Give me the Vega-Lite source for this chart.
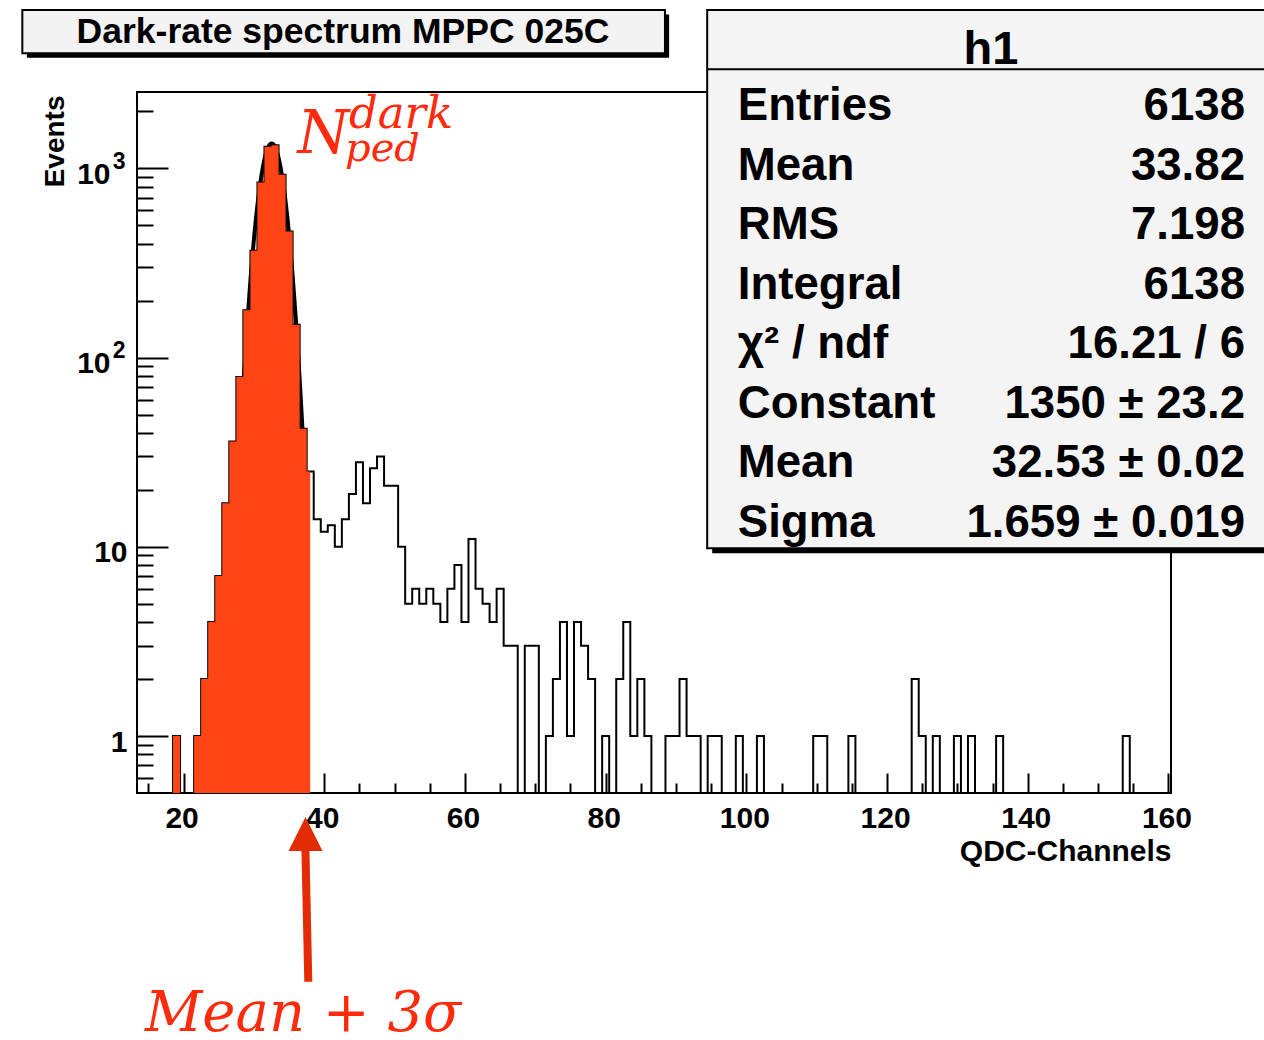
{
  "$schema": "https://vega.github.io/schema/vega-lite/v6.json",
  "width": 1034,
  "height": 701,
  "autosize": {"type": "none"},
  "padding": {"left": 137, "top": 92, "right": 93, "bottom": 247},
  "background": "white",
  "config": {
    "view": {"stroke": "black", "strokeWidth": 2},
    "axis": {"labelFont": "Liberation Sans", "titleFont": "Liberation Sans", "labelColor": "black", "titleColor": "black", "grid": false}
  },
  "datasets": {
    "hist": [
      {"ch": 13, "n": 0}, {"ch": 14, "n": 0}, {"ch": 15, "n": 0}, {"ch": 16, "n": 0}, {"ch": 17, "n": 0}, {"ch": 18, "n": 0},
      {"ch": 19, "n": 1}, {"ch": 20, "n": 0}, {"ch": 21, "n": 0}, {"ch": 22, "n": 1}, {"ch": 23, "n": 2}, {"ch": 24, "n": 4},
      {"ch": 25, "n": 7}, {"ch": 26, "n": 17}, {"ch": 27, "n": 36}, {"ch": 28, "n": 79}, {"ch": 29, "n": 178}, {"ch": 30, "n": 367},
      {"ch": 31, "n": 841}, {"ch": 32, "n": 1300}, {"ch": 33, "n": 1325}, {"ch": 34, "n": 924}, {"ch": 35, "n": 463}, {"ch": 36, "n": 149},
      {"ch": 37, "n": 42}, {"ch": 38, "n": 25}, {"ch": 39, "n": 14}, {"ch": 40, "n": 12}, {"ch": 41, "n": 13}, {"ch": 42, "n": 10},
      {"ch": 43, "n": 14}, {"ch": 44, "n": 19}, {"ch": 45, "n": 28}, {"ch": 46, "n": 17}, {"ch": 47, "n": 26}, {"ch": 48, "n": 30},
      {"ch": 49, "n": 21}, {"ch": 50, "n": 21}, {"ch": 51, "n": 10}, {"ch": 52, "n": 5}, {"ch": 53, "n": 6}, {"ch": 54, "n": 5},
      {"ch": 55, "n": 6}, {"ch": 56, "n": 5}, {"ch": 57, "n": 4}, {"ch": 58, "n": 6}, {"ch": 59, "n": 8}, {"ch": 60, "n": 4},
      {"ch": 61, "n": 11}, {"ch": 62, "n": 6}, {"ch": 63, "n": 5}, {"ch": 64, "n": 4}, {"ch": 65, "n": 6}, {"ch": 66, "n": 3},
      {"ch": 67, "n": 3}, {"ch": 68, "n": 0}, {"ch": 69, "n": 3}, {"ch": 70, "n": 3}, {"ch": 71, "n": 0}, {"ch": 72, "n": 1},
      {"ch": 73, "n": 2}, {"ch": 74, "n": 4}, {"ch": 75, "n": 1}, {"ch": 76, "n": 4}, {"ch": 77, "n": 3}, {"ch": 78, "n": 2},
      {"ch": 79, "n": 0}, {"ch": 80, "n": 1}, {"ch": 81, "n": 0}, {"ch": 82, "n": 2}, {"ch": 83, "n": 4}, {"ch": 84, "n": 1},
      {"ch": 85, "n": 2}, {"ch": 86, "n": 1}, {"ch": 87, "n": 0}, {"ch": 88, "n": 0}, {"ch": 89, "n": 1}, {"ch": 90, "n": 1},
      {"ch": 91, "n": 2}, {"ch": 92, "n": 1}, {"ch": 93, "n": 1}, {"ch": 94, "n": 0}, {"ch": 95, "n": 1}, {"ch": 96, "n": 1},
      {"ch": 97, "n": 0}, {"ch": 98, "n": 0}, {"ch": 99, "n": 1}, {"ch": 100, "n": 0}, {"ch": 101, "n": 0}, {"ch": 102, "n": 1},
      {"ch": 103, "n": 0}, {"ch": 104, "n": 0}, {"ch": 105, "n": 0}, {"ch": 106, "n": 0}, {"ch": 107, "n": 0}, {"ch": 108, "n": 0},
      {"ch": 109, "n": 0}, {"ch": 110, "n": 1}, {"ch": 111, "n": 1}, {"ch": 112, "n": 0}, {"ch": 113, "n": 0}, {"ch": 114, "n": 0},
      {"ch": 115, "n": 1}, {"ch": 116, "n": 0}, {"ch": 117, "n": 0}, {"ch": 118, "n": 0}, {"ch": 119, "n": 0}, {"ch": 120, "n": 0},
      {"ch": 121, "n": 0}, {"ch": 122, "n": 0}, {"ch": 123, "n": 0}, {"ch": 124, "n": 2}, {"ch": 125, "n": 1}, {"ch": 126, "n": 0},
      {"ch": 127, "n": 1}, {"ch": 128, "n": 0}, {"ch": 129, "n": 0}, {"ch": 130, "n": 1}, {"ch": 131, "n": 0}, {"ch": 132, "n": 1},
      {"ch": 133, "n": 0}, {"ch": 134, "n": 0}, {"ch": 135, "n": 0}, {"ch": 136, "n": 1}, {"ch": 137, "n": 0}, {"ch": 138, "n": 0},
      {"ch": 139, "n": 0}, {"ch": 140, "n": 0}, {"ch": 141, "n": 0}, {"ch": 142, "n": 0}, {"ch": 143, "n": 0}, {"ch": 144, "n": 0},
      {"ch": 145, "n": 0}, {"ch": 146, "n": 0}, {"ch": 147, "n": 0}, {"ch": 148, "n": 0}, {"ch": 149, "n": 0}, {"ch": 150, "n": 0},
      {"ch": 151, "n": 0}, {"ch": 152, "n": 0}, {"ch": 153, "n": 0}, {"ch": 154, "n": 1}, {"ch": 155, "n": 0}, {"ch": 156, "n": 0},
      {"ch": 157, "n": 0}, {"ch": 158, "n": 0}, {"ch": 159, "n": 0}, {"ch": 160, "n": 0}
    ],
    "fit": [
      {"x": 27.55, "n": 14.9}, {"x": 28, "n": 32.4}, {"x": 28.5, "n": 70.6}, {"x": 29, "n": 140.4}, {"x": 29.5, "n": 254.6},
      {"x": 30, "n": 422.0}, {"x": 30.5, "n": 638.6}, {"x": 31, "n": 882.4}, {"x": 31.5, "n": 1113.3}, {"x": 32, "n": 1282.8},
      {"x": 32.53, "n": 1350}, {"x": 33, "n": 1296.9}, {"x": 33.5, "n": 1137.9}, {"x": 34, "n": 911.7}, {"x": 34.5, "n": 667.0},
      {"x": 35, "n": 445.6}, {"x": 35.5, "n": 271.9}, {"x": 36, "n": 151.5}, {"x": 36.5, "n": 77.1}, {"x": 37, "n": 35.8},
      {"x": 37.51, "n": 14.9}
    ],
    "stats": [
      {"row": 1, "stat": "Entries", "value": "6138"},
      {"row": 2, "stat": "Mean", "value": "33.82"},
      {"row": 3, "stat": "RMS", "value": "7.198"},
      {"row": 4, "stat": "Integral", "value": "6138"},
      {"row": 5, "stat": "χ² / ndf", "value": "16.21 / 6"},
      {"row": 6, "stat": "Constant", "value": "1350 ± 23.2"},
      {"row": 7, "stat": "Mean", "value": "32.53 ± 0.02"},
      {"row": 8, "stat": "Sigma", "value": "1.659 ± 0.019"}
    ]
  },
  "layer": [
    {
      "layer": [
        {
          "data": {"name": "hist"},
          "mark": {"type": "line", "interpolate": "step", "color": "black", "strokeWidth": 2, "clip": true},
          "encoding": {
            "x": {"field": "ch", "type": "quantitative", "scale": {"domain": [13.38, 160.36], "nice": false, "zero": false},
              "axis": {"orient": "bottom", "values": [20, 40, 60, 80, 100, 120, 140, 160], "ticks": false, "domain": false,
                "labelFontSize": 30, "labelFontWeight": "bold", "labelPadding": 10, "labelBaseline": "top", "labelOffset": -2,
                "labelFlush": false, "labelOverlap": false,
                "title": "QDC-Channels", "titleFontSize": 30, "titleFontWeight": "bold", "titleAlign": "right", "titleAnchor": "end",
                "titleX": 1034, "titleY": 67, "titleBaseline": "alphabetic"}},
            "y": {"field": "n", "type": "quantitative", "scale": {"type": "log", "domain": [0.5, 2530], "clamp": true, "nice": false},
              "axis": {"orient": "left", "values": [1, 10], "ticks": false, "domain": false,
                "labelExpr": "datum.value >= 9 ? '10' : '1'",
                "labelFontSize": 30, "labelFontWeight": "bold", "labelAlign": "right", "labelBaseline": "alphabetic", "labelOffset": 15,
                "labelPadding": 10, "labelFlush": false, "labelOverlap": false,
                "title": "Events", "titleFontSize": 28, "titleFontWeight": "bold", "titleAngle": 270, "titleAlign": "right",
                "titleBaseline": "alphabetic", "titleX": -74, "titleY": 3}}
          }
        },
        {
          "data": {"name": "fit"},
          "mark": {"type": "line", "interpolate": "monotone", "color": "black", "strokeWidth": 4},
          "encoding": {
            "x": {"field": "x", "type": "quantitative", "scale": {"domain": [13.38, 160.36], "nice": false, "zero": false},
              "axis": {"orient": "bottom", "values": [20, 40, 60, 80, 100, 120, 140, 160], "labels": false, "domain": false,
                "ticks": true, "tickSize": 20, "tickWidth": 2, "tickColor": "black", "offset": -20, "title": null}},
            "y": {"field": "n", "type": "quantitative", "scale": {"type": "log", "domain": [0.5, 2530], "clamp": true, "nice": false},
              "axis": {"orient": "left", "values": [1, 10, 100, 1000], "labels": false, "domain": false,
                "ticks": true, "tickSize": 31, "tickWidth": 2, "tickColor": "black", "offset": -31, "title": null}}
          }
        },
        {
          "data": {"name": "hist"},
          "transform": [{"filter": "datum.ch >= 18 && datum.ch <= 38"}],
          "mark": {"type": "area", "interpolate": "step", "color": "#ff4516", "opacity": 1},
          "encoding": {
            "x": {"field": "ch", "type": "quantitative", "scale": {"domain": [13.38, 160.36], "nice": false, "zero": false},
              "axis": {"orient": "bottom", "values": [15, 25, 30, 35, 45, 50, 55, 65, 70, 75, 85, 90, 95, 105, 110, 115, 125, 130, 135, 145, 150, 155],
                "labels": false, "domain": false, "ticks": true, "tickSize": 10, "tickWidth": 2, "tickColor": "black", "offset": -10, "title": null}},
            "y": {"field": "n", "type": "quantitative", "scale": {"type": "log", "domain": [0.5, 2530], "clamp": true, "nice": false},
              "axis": {"orient": "left", "values": [0.6, 0.7, 0.8, 0.9, 2, 3, 4, 5, 6, 7, 8, 9, 20, 30, 40, 50, 60, 70, 80, 90, 200, 300, 400, 500, 600, 700, 800, 900, 2000],
                "labels": false, "domain": false, "ticks": true, "tickSize": 16, "tickWidth": 2, "tickColor": "black", "offset": -16, "title": null}}
          }
        }
      ],
      "resolve": {"axis": {"x": "independent", "y": "independent"}}
    },
    {
      "layer": [
        {
          "data": {"values": [{}]},
          "mark": {"type": "rect", "color": "black"},
          "encoding": {
            "x": {"datum": -2.28, "type": "quantitative", "scale": {"domain": [13.38, 160.36], "nice": false, "zero": false}, "axis": null},
            "x2": {"datum": 89.02},
            "y": {"datum": 6493, "type": "quantitative", "scale": {"type": "log", "domain": [0.5, 2530], "nice": false},
              "axis": {"orient": "left", "values": [100, 1000], "ticks": false, "domain": false, "labelExpr": "'10'",
                "labelFontSize": 30, "labelFontWeight": "bold", "labelAlign": "right", "labelBaseline": "alphabetic", "labelOffset": 15,
                "labelPadding": 27, "labelFlush": false, "labelOverlap": false, "title": null}},
            "y2": {"datum": 3834}
          }
        },
        {
          "data": {"values": [{}]},
          "mark": {"type": "rect", "fill": "#f3f3f3", "stroke": "black", "strokeWidth": 2},
          "encoding": {
            "x": {"datum": -2.92, "type": "quantitative", "scale": {"domain": [13.38, 160.36], "nice": false, "zero": false}, "axis": null},
            "x2": {"datum": 88.43},
            "y": {"datum": 6859, "type": "quantitative", "scale": {"type": "log", "domain": [0.5, 2530], "nice": false},
              "axis": {"orient": "left", "values": [100, 1000], "ticks": false, "domain": false,
                "labelExpr": "datum.value >= 999 ? '3' : '2'",
                "labelFontSize": 23, "labelFontWeight": "bold", "labelAlign": "right", "labelBaseline": "alphabetic", "labelOffset": 0,
                "labelPadding": 12, "labelFlush": false, "labelOverlap": false, "title": null}},
            "y2": {"datum": 4050}
          }
        },
        {
          "data": {"values": [{"t": "Dark-rate spectrum MPPC 025C"}]},
          "mark": {"type": "text", "align": "center", "baseline": "alphabetic", "font": "Liberation Sans", "fontWeight": "bold", "fontSize": 35.5, "color": "black"},
          "encoding": {
            "x": {"datum": 42.66, "type": "quantitative", "scale": {"domain": [13.38, 160.36], "nice": false, "zero": false}, "axis": null},
            "y": {"datum": 4575, "type": "quantitative", "scale": {"type": "log", "domain": [0.5, 2530], "nice": false}, "axis": null},
            "text": {"field": "t"}
          }
        },
        {
          "data": {"values": [{}]},
          "mark": {"type": "rect", "color": "black"},
          "encoding": {
            "x": {"datum": 95.14, "type": "quantitative", "scale": {"domain": [13.38, 160.36], "nice": false, "zero": false}, "axis": null},
            "x2": {"datum": 185},
            "y": {"datum": 6454, "type": "quantitative", "scale": {"type": "log", "domain": [0.5, 2530], "nice": false}, "axis": null},
            "y2": {"datum": 9.23}
          }
        },
        {
          "data": {"values": [{}]},
          "mark": {"type": "rect", "fill": "#f4f4f4", "stroke": "black", "strokeWidth": 2},
          "encoding": {
            "x": {"datum": 94.43, "type": "quantitative", "scale": {"domain": [13.38, 160.36], "nice": false, "zero": false}, "axis": null},
            "x2": {"datum": 185},
            "y": {"datum": 6859, "type": "quantitative", "scale": {"type": "log", "domain": [0.5, 2530], "nice": false}, "axis": null},
            "y2": {"datum": 9.81}
          }
        },
        {
          "data": {"values": [{}]},
          "mark": {"type": "rule", "color": "black", "strokeWidth": 2},
          "encoding": {
            "x": {"datum": 94.43, "type": "quantitative", "scale": {"domain": [13.38, 160.36], "nice": false, "zero": false}, "axis": null},
            "x2": {"datum": 185},
            "y": {"datum": 3334, "type": "quantitative", "scale": {"type": "log", "domain": [0.5, 2530], "nice": false}, "axis": null}
          }
        },
        {
          "data": {"values": [{"t": "h1"}]},
          "mark": {"type": "text", "align": "center", "baseline": "alphabetic", "font": "Liberation Sans", "fontWeight": "bold", "fontSize": 47, "color": "black"},
          "encoding": {
            "x": {"datum": 134.77, "type": "quantitative", "scale": {"domain": [13.38, 160.36], "nice": false, "zero": false}, "axis": null},
            "y": {"datum": 3556, "type": "quantitative", "scale": {"type": "log", "domain": [0.5, 2530], "nice": false}, "axis": null},
            "text": {"field": "t"}
          }
        },
        {
          "data": {"values": [{"t": "N"}]},
          "mark": {"type": "text", "align": "left", "baseline": "alphabetic", "font": "DejaVu Serif", "fontStyle": "italic", "fontSize": 59, "color": "#ff2b0c"},
          "encoding": {
            "x": {"datum": 36.2, "type": "quantitative", "scale": {"domain": [13.38, 160.36], "nice": false, "zero": false}, "axis": null},
            "y": {"datum": 1199, "type": "quantitative", "scale": {"type": "log", "domain": [0.5, 2530], "nice": false}, "axis": null},
            "text": {"field": "t"}
          }
        },
        {
          "data": {"values": [{"t": "dark"}]},
          "mark": {"type": "text", "align": "left", "baseline": "alphabetic", "font": "DejaVu Serif", "fontStyle": "italic", "fontSize": 45, "color": "#ff2b0c"},
          "encoding": {
            "x": {"datum": 43.5, "type": "quantitative", "scale": {"domain": [13.38, 160.36], "nice": false, "zero": false}, "axis": null},
            "y": {"datum": 1626, "type": "quantitative", "scale": {"type": "log", "domain": [0.5, 2530], "nice": false}, "axis": null},
            "text": {"field": "t"}
          }
        },
        {
          "data": {"values": [{"t": "ped"}]},
          "mark": {"type": "text", "align": "left", "baseline": "alphabetic", "font": "DejaVu Serif", "fontStyle": "italic", "fontSize": 40, "color": "#ff2b0c"},
          "encoding": {
            "x": {"datum": 42.95, "type": "quantitative", "scale": {"domain": [13.38, 160.36], "nice": false, "zero": false}, "axis": null},
            "y": {"datum": 1092, "type": "quantitative", "scale": {"type": "log", "domain": [0.5, 2530], "nice": false}, "axis": null},
            "text": {"field": "t"}
          }
        },
        {
          "data": {"values": [{}]},
          "mark": {"type": "rule", "color": "#e32b06", "strokeWidth": 8},
          "encoding": {
            "x": {"datum": 37.73, "type": "quantitative", "scale": {"domain": [13.38, 160.36], "nice": false, "zero": false}, "axis": null},
            "x2": {"datum": 37.30},
            "y": {"datum": 0.0503, "type": "quantitative", "scale": {"type": "log", "domain": [0.5, 2530], "nice": false}, "axis": null},
            "y2": {"datum": 0.272}
          }
        },
        {
          "data": {"values": [{}]},
          "mark": {"type": "point", "shape": "M0,-1L1,1L-1,1Z", "size": 1156, "filled": true, "color": "#e32b06", "opacity": 1},
          "encoding": {
            "x": {"datum": 37.33, "type": "quantitative", "scale": {"domain": [13.38, 160.36], "nice": false, "zero": false}, "axis": null},
            "y": {"datum": 0.3035, "type": "quantitative", "scale": {"type": "log", "domain": [0.5, 2530], "nice": false}, "axis": null}
          }
        },
        {
          "data": {"values": [{"t": "Mean + 3σ"}]},
          "mark": {"type": "text", "align": "left", "baseline": "alphabetic", "font": "DejaVu Serif", "fontStyle": "italic", "fontSize": 56, "color": "#ff2b0c"},
          "encoding": {
            "x": {"datum": 14.52, "type": "quantitative", "scale": {"domain": [13.38, 160.36], "nice": false, "zero": false}, "axis": null},
            "y": {"datum": 0.0275, "type": "quantitative", "scale": {"type": "log", "domain": [0.5, 2530], "nice": false}, "axis": null},
            "text": {"field": "t"}
          }
        }
      ],
      "resolve": {"axis": {"y": "independent"}}
    },
    {
      "data": {"name": "stats"},
      "mark": {"type": "text", "align": "left", "baseline": "alphabetic", "font": "Liberation Sans", "fontWeight": "bold", "fontSize": 45.6, "color": "black"},
      "encoding": {
        "x": {"datum": 98.78, "type": "quantitative", "scale": {"domain": [13.38, 160.36], "nice": false, "zero": false}, "axis": null},
        "y": {"field": "row", "type": "ordinal", "scale": {"type": "point", "domain": [1, 2, 3, 4, 5, 6, 7, 8], "range": [28, 444.6], "padding": 0}, "axis": null},
        "text": {"field": "stat"}
      }
    },
    {
      "data": {"name": "stats"},
      "mark": {"type": "text", "align": "right", "baseline": "alphabetic", "font": "Liberation Sans", "fontWeight": "bold", "fontSize": 45.6, "color": "black"},
      "encoding": {
        "x": {"datum": 170.88, "type": "quantitative", "scale": {"domain": [13.38, 160.36], "nice": false, "zero": false}, "axis": null},
        "y": {"field": "row", "type": "ordinal", "scale": {"type": "point", "domain": [1, 2, 3, 4, 5, 6, 7, 8], "range": [28, 444.6], "padding": 0}, "axis": null},
        "text": {"field": "value"}
      }
    }
  ],
  "resolve": {"scale": {"x": "independent", "y": "independent"}}
}
